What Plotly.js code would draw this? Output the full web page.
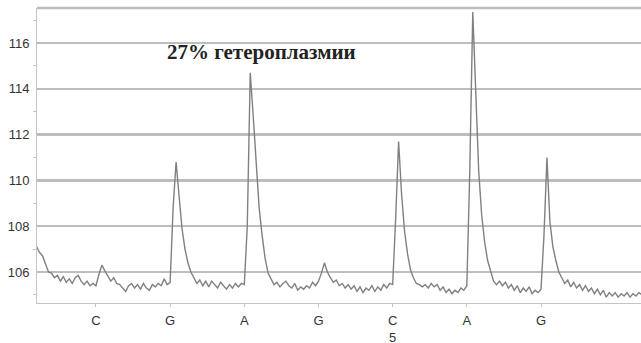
<!DOCTYPE html>
<html>
<head>
<meta charset="utf-8">
<script src="https://cdn.plot.ly/plotly-3.0.1.min.js"></script>
<style>html,body{margin:0;padding:0;background:#fff;}#chart{width:641px;height:343px;}</style>
</head>
<body>
<div id="chart"></div>
<script>
// Base calls (dispensation order) and their positions on the x axis
const bases = ["C", "G", "A", "G", "C<br>5", "A", "G"];
const basePositions = [1, 2, 3, 4, 5, 6, 7];

// Signal sampling grid: first sample time and step (in base units)
const sampleStart = 0.2;
const sampleStep = 0.04;

// Signal intensity, one value per sample
const signal = [
  107.1, 106.85, 106.7, 106.3, 106.0, 105.95, 105.75, 105.85, 105.6, 105.8,
  105.55, 105.7, 105.5, 105.75, 105.85, 105.6, 105.45, 105.6, 105.4, 105.5,
  105.4, 105.9, 106.3, 106.05, 105.85, 105.6, 105.75, 105.5, 105.45, 105.3,
  105.15, 105.4, 105.5, 105.3, 105.45, 105.25, 105.5, 105.3, 105.2, 105.45,
  105.35, 105.5, 105.4, 105.7, 105.45, 105.55, 108.8, 110.8, 109.3, 107.9,
  107.0, 106.4, 106.0, 105.75, 105.5, 105.65, 105.4, 105.6, 105.35, 105.6,
  105.45, 105.3, 105.55, 105.4, 105.25, 105.45, 105.3, 105.5, 105.35, 105.5,
  105.45, 108.0, 114.7, 112.8, 110.6, 108.8, 107.6, 106.6, 105.95, 105.7,
  105.45, 105.55, 105.35, 105.5, 105.6, 105.4, 105.3, 105.5, 105.2, 105.35,
  105.25, 105.4, 105.3, 105.55, 105.4, 105.6, 105.95, 106.4, 106.0, 105.75,
  105.55, 105.65, 105.4, 105.5, 105.3, 105.45, 105.25, 105.4, 105.15, 105.35,
  105.1, 105.3, 105.2, 105.4, 105.15, 105.35, 105.2, 105.45, 105.3, 105.5,
  105.45, 108.3, 111.7, 109.4, 107.8, 106.8, 106.1, 105.75, 105.5, 105.45,
  105.35, 105.45, 105.3, 105.5, 105.35, 105.45, 105.2, 105.35, 105.1, 105.25,
  105.05, 105.2, 105.1, 105.3, 105.2, 105.4, 110.5, 117.35, 114.2, 110.4,
  108.5, 107.3, 106.5, 106.0, 105.6, 105.45, 105.6, 105.4, 105.55, 105.3,
  105.45, 105.2, 105.4, 105.1, 105.3, 105.15, 105.35, 105.05, 105.2, 105.1,
  105.25, 107.6, 111.0, 108.2, 107.1, 106.5, 106.0, 105.75, 105.5, 105.65,
  105.35, 105.55, 105.3, 105.45, 105.2, 105.4, 105.15, 105.3, 105.05, 105.25,
  105.0, 105.2, 104.9, 105.1, 104.95, 105.1, 104.9, 105.05, 104.95, 105.1,
  104.9, 105.05, 104.95, 105.1, 105.0
];

// Y axis labels
const yTicks = [106, 108, 110, 112, 114, 116];
const yTickText = ["106", "108", "110", "112", "114", "116"];

const annotationText = "27% гетероплазмии";

const sampleTimes = signal.map((_, i) => sampleStart + i * sampleStep);

const trace = {
  x: sampleTimes,
  y: signal,
  type: "scatter",
  mode: "lines",
  line: { color: "#808080", width: 1.4 },
  hoverinfo: "skip"
};

const layout = {
  width: 641,
  height: 343,
  margin: { l: 37, r: 0, t: 8, b: 40, pad: 0 },
  paper_bgcolor: "#ffffff",
  plot_bgcolor: "#ffffff",
  showlegend: false,
  font: { family: "Liberation Sans, Arial, sans-serif", size: 13, color: "#333" },
  xaxis: {
    range: [0.205, 8.348],
    tickmode: "array",
    tickvals: basePositions,
    ticktext: bases,
    showgrid: false,
    zeroline: false,
    showline: true,
    linecolor: "#c4c4c4",
    linewidth: 1,
    ticks: "outside",
    ticklen: 3,
    tickcolor: "#c4c4c4",
    tickfont: { family: "Liberation Sans, Arial, sans-serif", size: 13, color: "#333" },
    ticklabelstandoff: 2
  },
  yaxis: {
    range: [104.646, 117.53],
    tickmode: "array",
    tickvals: yTicks,
    ticktext: yTickText,
    showgrid: true,
    gridcolor: "#bdbdbd",
    gridwidth: 2.5,
    zeroline: false,
    showline: true,
    linecolor: "#c4c4c4",
    linewidth: 1,
    ticks: "",
    tickfont: { family: "Liberation Sans, Arial, sans-serif", size: 13, color: "#333" },
    ticklabelstandoff: 4,
    minor: { tick0: 105, dtick: 2, ticks: "outside", ticklen: 3, tickcolor: "#c4c4c4", showgrid: false }
  },
  shapes: [
    { type: "line", xref: "paper", yref: "paper", x0: 0, x1: 1, y0: 1, y1: 1,
      line: { color: "#bdbdbd", width: 2.5 } }
  ],
  annotations: [
    {
      text: "<b>" + annotationText + "</b>",
      xref: "paper", yref: "paper",
      x: 0.3725, y: 0.851,
      xanchor: "center", yanchor: "middle",
      showarrow: false,
      font: { family: "Liberation Serif, Times New Roman, serif", size: 21, color: "#222" }
    }
  ]
};

Plotly.newPlot("chart", [trace], layout, { staticPlot: true, displayModeBar: false });
</script>
</body>
</html>
